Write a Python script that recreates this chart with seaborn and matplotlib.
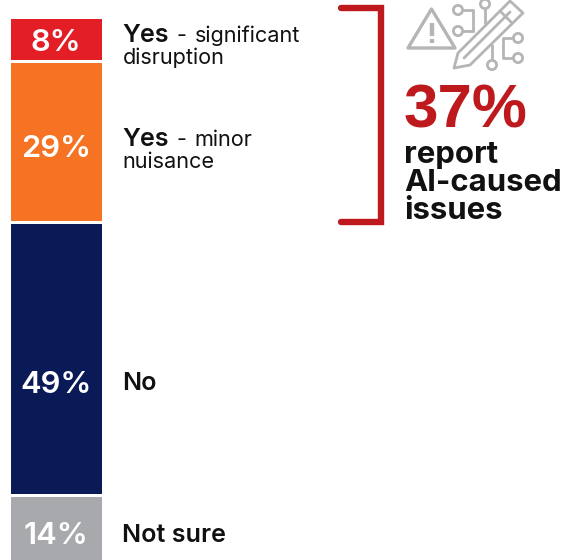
import matplotlib
matplotlib.use("Agg")
import matplotlib.pyplot as plt
from matplotlib.patches import Circle, Polygon
import seaborn as sns

categories = ["Yes - significant disruption", "Yes - minor nuisance", "No", "Not sure"]
shares = [8, 29, 49, 14]
share_labels = ["8%", "29%", "49%", "14%"]
colors = ["#E31E26", "#F57322", "#0A1A57", "#A7A9AC"]
total_issues = "37%"

RED = "#BE1A1E"
GREY = "#B4B5B7"
INK = "#111111"
WHITE_GAP = 2.16

sns.set_theme(style="white")
plt.rcParams["font.family"] = ["Inter", "DejaVu Sans"]

W, H = 566, 560
fig = plt.figure(figsize=(W / 100, H / 100), dpi=100, facecolor="white")

# Stacked column, running from the top down; the axes fill the canvas
ax = fig.add_axes([0, 0, 1, 1])
bottom = 0
for cat, val, col in zip(categories, shares, colors):
    sns.barplot(x=["Share"], y=[val], bottom=bottom, color=col, saturation=1,
                width=1, edgecolor="white", linewidth=WHITE_GAP, ax=ax)
    bottom += val

px_per_unit = 5.56
top_px = 16.5
ax.set_ylim((H - top_px) / px_per_unit, -top_px / px_per_unit)
bar_px = 93.5
left_px = 9.0
ax.set_xlim(-0.5 - left_px / bar_px, -0.5 + (W - left_px) / bar_px)
ax.axis("off")

# Overlay in canvas pixels for labels and the icon
ov = fig.add_axes([0, 0, 1, 1], facecolor="none")
ov.set_xlim(0, W)
ov.set_ylim(H, 0)
ov.axis("off")

# Value labels inside the segments
for lab, y in zip(share_labels, [40, 146, 382, 533]):
    ov.text(56, y, lab, color="white", fontsize=22.3, fontweight="semibold",
            ha="center", va="center_baseline")

# Category labels
def label(x, y, s, size=18.1, weight="semibold"):
    ov.text(x, y, s, color=INK, fontsize=size, fontweight=weight, ha="left", va="baseline")

label(122, 41.5, "Yes")
label(176, 41.5, "-", 15.6, "normal")
label(195, 41.5, "significant", 15.6, "normal")
label(122.5, 63.5, "disruption", 15.6, "normal")
label(122, 146.5, "Yes")
label(176, 146.5, "-", 15.6, "normal")
label(194, 146.5, "minor", 15.6, "normal")
label(122.5, 168.5, "nuisance", 15.6, "normal")
label(122, 390.5, "No")
label(122, 541.5, "Not sure")

# Bracket
ov.plot([341, 381, 381, 341], [8, 8, 222, 222], color=RED, lw=4.6,
        solid_capstyle="round", solid_joinstyle="miter")

# Callout
ov.text(404, 128, total_issues, color=RED, fontsize=44.6, fontweight="bold",
        family="Liberation Sans", ha="left", va="baseline")
for y, s in zip([163, 191, 219], ["report", "AI-caused", "issues"]):
    ov.text(404.5, y, s, color=INK, fontsize=22.4, fontweight="bold", ha="left", va="baseline")

# Warning triangle and circuit-pencil icon
lw = 2.0
ov.add_patch(Polygon([(431.5, 9), (408, 48), (455, 48)], closed=True, fill=False,
                     ec=GREY, lw=2.4, joinstyle="round"))
ov.plot([431.5, 431.5], [23, 36], color=GREY, lw=3.2, solid_capstyle="butt")
ov.plot([431.5, 431.5], [39, 43], color=GREY, lw=3.2, solid_capstyle="butt")

segments = [
    ([463, 473, 473], [10, 10, 31]), ([463, 473], [31, 31]),
    ([485, 485], [9, 23]), ([492, 492], [60, 45]),
    ([513, 503, 503, 513], [38, 38, 58, 58]),
]
for xs, ys in segments:
    ov.plot(xs, ys, color=GREY, lw=lw)
for cx, cy in [(458, 10), (458, 31), (485, 4), (492, 65), (518, 38), (518, 58)]:
    ov.add_patch(Circle((cx, cy), 4.6, fill=False, ec=GREY, lw=lw))

ov.add_patch(Polygon([(454, 68), (458, 53), (510, 1), (523, 13), (470, 65)], closed=True,
                     fill=False, ec=GREY, lw=lw, joinstyle="round"))
ov.plot([464, 510], [58, 12], color=GREY, lw=lw)
ov.plot([500, 512], [11, 23], color=GREY, lw=lw)

fig.savefig("out.png", dpi=100, facecolor="white")
